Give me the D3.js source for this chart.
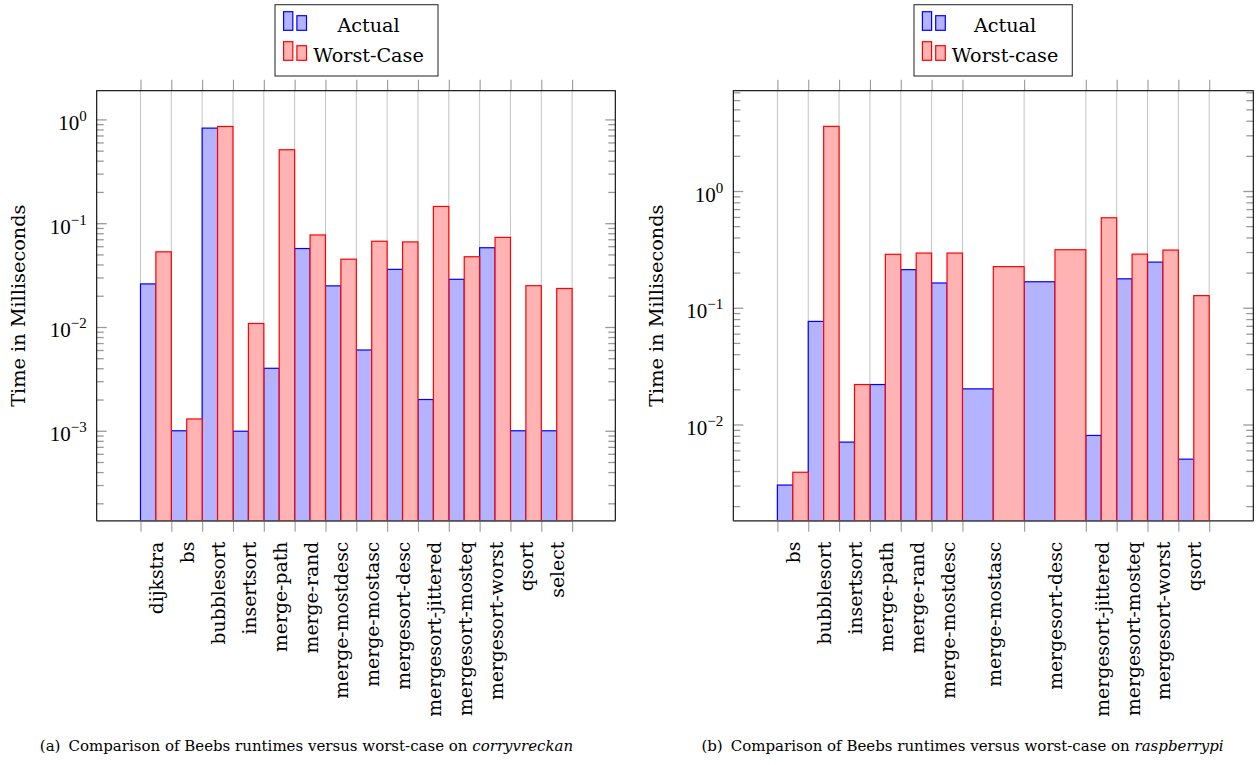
<!DOCTYPE html>
<html><head><meta charset="utf-8">
<script src="https://cdn.jsdelivr.net/npm/d3@7/dist/d3.min.js"></script>
<style>
body{margin:0;background:#fff;}
svg{display:block;}
</style></head>
<body>
<svg id="chart" width="1258" height="765"></svg>
<script>
// ---------------- data ----------------
const leftCats = ["dijkstra","bs","bubblesort","insertsort","merge-path","merge-rand","merge-mostdesc","merge-mostasc","mergesort-desc","mergesort-jittered","mergesort-mosteq","mergesort-worst","qsort","select"];
const leftSlots = [1,1,1,1,1,1,1,1,1,1,1,1,1,1];
const leftActual = [0.026,0.001,0.824,0.00099,0.004,0.057,0.0249,0.006,0.0359,0.002,0.0288,0.058,0.001,0.001];
const leftWorst  = [0.053,0.0013,0.855,0.0108,0.51,0.077,0.045,0.067,0.066,0.145,0.0475,0.073,0.025,0.0235];
const leftYDomain = [1.36e-4, 1.89];
const leftLegend = ["Actual","Worst-Case"];

const rightCats = ["bs","bubblesort","insertsort","merge-path","merge-rand","merge-mostdesc","merge-mostasc","mergesort-desc","mergesort-jittered","mergesort-mosteq","mergesort-worst","qsort"];
const rightSlots = [1,1,1,1,1,1,2,2,1,1,1,1];
const rightActual = [0.00303,0.0764,0.00707,0.022,0.212,0.163,0.0202,0.167,0.00806,0.177,0.246,0.00505];
const rightWorst  = [0.0039,3.58,0.022,0.287,0.294,0.294,0.225,0.314,0.59,0.288,0.312,0.127];
const rightYDomain = [1.5e-3, 7.23];
const rightLegend = ["Actual","Worst-case"];

const yTitle = "Time in Milliseconds";
const captionA = ["(a)", "Comparison of Beebs runtimes versus worst-case on ", "corryvreckan"];
const captionB = ["(b)", "Comparison of Beebs runtimes versus worst-case on ", "raspberrypi"];

// ---------------- styles ----------------
const SERIF = "'DejaVu Serif', serif";
const TIMES = "'Liberation Serif', 'Times New Roman', serif";
const BLUE_FILL = "#b3b3ff", BLUE = "#0000ff";
const RED_FILL = "#ffb3b3", RED = "#ff0000";

const svg = d3.select("#chart");

function drawPanel(cfg) {
  const g = svg.append("g");
  const {cats, slots, actual, worst, yDomain, legend, box} = cfg;
  const nUnits = d3.sum(slots);
  const starts = d3.cumsum([0, ...slots]); // boundaries
  const x = d3.scaleLinear().domain([-box.padL, nUnits + box.padR]).range([box.x0, box.x1]);
  const y = d3.scaleLog().domain(yDomain).range([box.y1, box.y0]);

  // grid lines at category boundaries
  g.append("g").selectAll("line").data(starts).join("line")
    .attr("x1", d => x(d)).attr("x2", d => x(d))
    .attr("y1", box.y0).attr("y2", box.y1)
    .attr("stroke", "#c4c4c4").attr("stroke-width", 1);

  // bars
  const items = cats.map((c, i) => ({c, i, s: starts[i], w: slots[i], a: actual[i], b: worst[i]}));
  const bars = g.append("g");
  bars.selectAll("rect.a").data(items).join("rect").attr("class","a")
    .attr("x", d => x(d.s)).attr("width", d => x(d.s + d.w/2) - x(d.s))
    .attr("y", d => y(d.a)).attr("height", d => box.y1 - y(d.a))
    .attr("fill", BLUE_FILL).attr("stroke", BLUE).attr("stroke-width", 1.2);
  bars.selectAll("rect.b").data(items).join("rect").attr("class","b")
    .attr("x", d => x(d.s + d.w/2)).attr("width", d => x(d.s + d.w) - x(d.s + d.w/2))
    .attr("y", d => y(d.b)).attr("height", d => box.y1 - y(d.b))
    .attr("fill", RED_FILL).attr("stroke", RED).attr("stroke-width", 1.2);

  // x ticks (outside, top and bottom)
  const xb = d3.axisBottom(x).tickValues(starts).tickSize(11).tickFormat("");
  const xt = d3.axisTop(x).tickValues(starts).tickSize(11).tickFormat("");
  const gxb = g.append("g").attr("transform", `translate(0,${box.y1})`).call(xb);
  const gxt = g.append("g").attr("transform", `translate(0,${box.y0})`).call(xt);
  [gxb, gxt].forEach(a => { a.select(".domain").remove(); a.selectAll("line").attr("stroke", "#999").attr("stroke-width", 1.1); });

  // y ticks (inside on both sides)
  const [lo, hi] = yDomain;
  const majors = [], minors = [];
  for (let e = Math.floor(Math.log10(lo)); e <= Math.ceil(Math.log10(hi)); e++) {
    for (let k = 1; k <= 9; k++) {
      const v = k * Math.pow(10, e);
      if (v >= lo && v <= hi) (k === 1 ? majors : minors).push(v);
    }
  }
  const mk = (gen, vals, size, tx) => {
    const a = g.append("g").attr("transform", `translate(${tx},0)`).call(gen(y).tickValues(vals).tickSize(size).tickFormat(""));
    a.select(".domain").remove();
    a.selectAll("line").attr("stroke", "#9a9a9a").attr("stroke-width", 1.3);
  };
  mk(d3.axisLeft, majors, -10, box.x0);
  mk(d3.axisLeft, minors, -7, box.x0);
  mk(d3.axisRight, majors, -10, box.x1);
  mk(d3.axisRight, minors, -7, box.x1);

  // y tick labels 10^e
  const lbl = g.append("g").selectAll("text").data(majors).join("text")
    .attr("x", box.x0 - 10).attr("y", d => y(d) + 10.5)
    .attr("text-anchor", "end").attr("font-family", TIMES).attr("font-size", 21).attr("fill", "#000");
  lbl.append("tspan").text("10");
  lbl.append("tspan").attr("dy", -9).attr("font-size", 15)
    .text(d => { const e = Math.round(Math.log10(d)); return e < 0 ? "\u2212" + (-e) : String(e); });

  // box
  g.append("rect").attr("x", box.x0).attr("y", box.y0).attr("width", box.x1 - box.x0).attr("height", box.y1 - box.y0)
    .attr("fill", "none").attr("stroke", "#000").attr("stroke-width", 1.1);
  g.append("line").attr("x1", box.x0).attr("x2", box.x1).attr("y1", box.y1).attr("y2", box.y1)
    .attr("stroke", "#555").attr("stroke-width", 1.4);

  // x category labels (rotated)
  g.append("g").selectAll("text").data(items).join("text")
    .attr("transform", d => `translate(${x(d.s + d.w/2) + 1},${box.y1 + 21}) rotate(-90)`)
    .attr("text-anchor", "end").attr("dominant-baseline", "central")
    .attr("font-family", SERIF).attr("font-size", 18.8).attr("fill", "#000")
    .text(d => d.c);

  // y title
  g.append("text").attr("transform", `translate(${cfg.yTitleX},${(box.y0 + box.y1)/2}) rotate(-90)`)
    .attr("text-anchor", "middle").attr("dominant-baseline", "central")
    .attr("font-family", SERIF).attr("font-size", 19.3).text(yTitle);

  // legend
  const L = cfg.legendBox;
  const lg = g.append("g").attr("transform", `translate(${L.x},${L.y})`);
  lg.append("rect").attr("width", L.w).attr("height", L.h).attr("fill", "#fff").attr("stroke", "#333").attr("stroke-width", 1.1);
  const ent = [{t: legend[0], f: BLUE_FILL, s: BLUE}, {t: legend[1], f: RED_FILL, s: RED}];
  ent.forEach((e, i) => {
    const oy = 7 + i * 30;
    lg.append("rect").attr("x", L.ix).attr("y", oy).attr("width", 9.2).attr("height", 18.6)
      .attr("fill", e.f).attr("stroke", e.s).attr("stroke-width", 1.2);
    lg.append("rect").attr("x", L.ix + 13.3).attr("y", oy + 4).attr("width", 9.6).attr("height", 14.6)
      .attr("fill", e.f).attr("stroke", e.s).attr("stroke-width", 1.2);
    lg.append("text").attr("x", L.tx).attr("y", oy + 20.5).attr("text-anchor", "middle")
      .attr("font-family", SERIF).attr("font-size", 19.2).attr("fill", "#000").text(e.t);
  });

  // caption
  const cap = cfg.caption;
  const ct = g.append("text").attr("x", cfg.capX).attr("y", 751).attr("text-anchor", "middle")
    .attr("font-family", SERIF).attr("font-size", 15).attr("fill", "#000");
  ct.append("tspan").text(cap[0]);
  ct.append("tspan").attr("dx", 8).text(cap[1]);
  ct.append("tspan").attr("font-style", "italic").text(cap[2]);
}

drawPanel({
  cats: leftCats, slots: leftSlots, actual: leftActual, worst: leftWorst, yDomain: leftYDomain, legend: leftLegend,
  box: {x0: 96.7, x1: 615.3, y0: 90.7, y1: 520.7, padL: 1.42, padR: 1.40},
  yTitleX: 18.5,
  legendBox: {x: 275, y: 4.7, w: 163, h: 71.3, ix: 8.6, tx: 93.5},
  caption: captionA, capX: 306.5
});
drawPanel({
  cats: rightCats, slots: rightSlots, actual: rightActual, worst: rightWorst, yDomain: rightYDomain, legend: rightLegend,
  box: {x0: 733.3, x1: 1253.3, y0: 90.7, y1: 520.7, padL: 1.43, padR: 1.43},
  yTitleX: 656,
  legendBox: {x: 914, y: 4.7, w: 158.3, h: 71.3, ix: 8.4, tx: 91},
  caption: captionB, capX: 962.5
});
</script>
</body></html>
